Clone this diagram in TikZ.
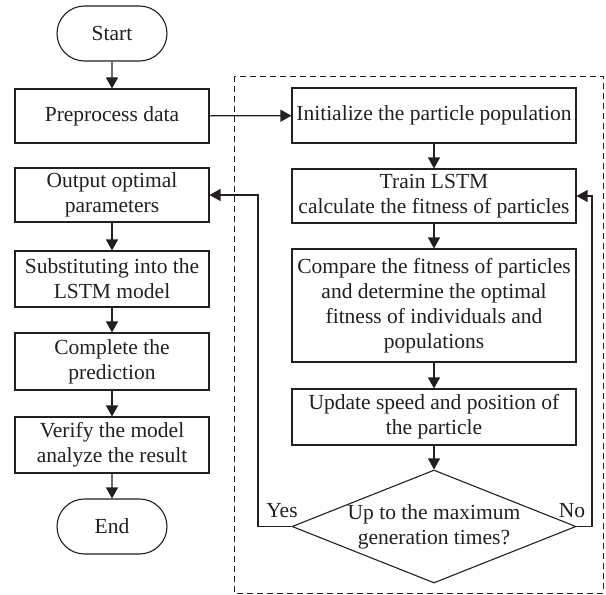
\documentclass[tikz,border=0pt]{standalone}
\usepackage{fontspec}
\setmainfont{Liberation Serif}
\usetikzlibrary{shapes.misc,shapes.geometric,arrows.meta}
\definecolor{ink}{HTML}{231F20}
\tikzset{
  box/.style={draw=ink, line width=1.1pt, rectangle, align=center, inner sep=0pt, text=ink,
    font=\fontsize{21.5}{25}\selectfont},
  lbox/.style={box, minimum width=194pt},
  rbox/.style={box, minimum width=284pt},
  term/.style={draw=ink, line width=1.1pt, rounded rectangle, minimum width=110pt, minimum height=55pt,
    inner sep=0pt, text=ink, font=\fontsize{21.5}{25}\selectfont},
  dec/.style={draw=ink, line width=1.1pt, diamond, minimum width=284pt, minimum height=113pt, inner sep=0pt},
  arr/.style={draw=ink, line width=1.2pt, -{Triangle[length=11pt,width=12pt]}},
  lbl/.style={text=ink, font=\fontsize{21.5}{25}\selectfont, inner sep=0pt},
}
\begin{document}
\begin{tikzpicture}[x=1pt,y=-1pt]
\useasboundingbox (0,0) rectangle (606,595);
\draw[ink, line width=1pt, dash pattern=on 6pt off 4pt] (234,76) rectangle (603,593);
% left column
\node[term] (start) at (112,33.5) {Start};
\node[lbox, minimum height=54pt] (pre) at (112,116) {Preprocess data};
\node[lbox, minimum height=54pt] (out) at (112,195) {Output optimal\\parameters};
\node[lbox, minimum height=56pt] (sub) at (112,279) {Substituting into the\\LSTM model};
\node[lbox, minimum height=57pt] (comp) at (112,361.5) {Complete the\\prediction};
\node[lbox, minimum height=56pt] (ver) at (112,445) {Verify the model\\analyze the result};
\node[term] (end) at (112,526.5) {End};
% right column
\node[rbox, minimum height=55pt] (init) at (434,115.5) {Initialize the particle population};
\node[rbox, minimum height=54pt] (train) at (434,196) {Train LSTM\\calculate the fitness of particles};
\node[rbox, minimum height=113pt] (cmp) at (434,305.5) {Compare the fitness of particles\\and determine the optimal\\fitness of individuals and\\populations};
\node[rbox, minimum height=56pt] (upd) at (434,417) {Update speed and position of\\the particle};
\node[dec, label={[lbl, align=center]center:Up to the maximum\\generation times?}] (dia) at (434,526.5) {};
\coordinate (yl) at (258,526.5);
\coordinate (nl) at (592,526.5);
\node[lbl] (yes) at (282,511) {Yes};
\node[lbl] (no) at (572,511) {No};
% connectors
\draw[arr] (start) -- (pre);
\draw[arr] (out) -- (sub);
\draw[arr] (sub) -- (comp);
\draw[arr] (comp) -- (ver);
\draw[arr] (ver) -- (end);
\draw[arr] (pre) -- (init);
\draw[arr] (init) -- (train);
\draw[arr] (train) -- (cmp);
\draw[arr] (cmp) -- (upd);
\draw[arr] (upd) -- (dia);
\draw[arr] (dia.west) -- (yl) |- (out.east);
\draw[arr] (dia.east) -- (nl) |- (train.east);
\end{tikzpicture}
\end{document}
